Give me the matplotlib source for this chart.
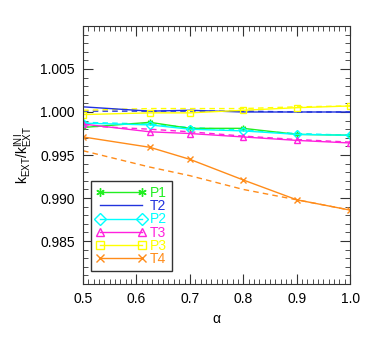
import matplotlib
matplotlib.use("Agg")
import matplotlib.pyplot as plt
from matplotlib.ticker import MultipleLocator, FormatStrFormatter

plt.rcParams['font.family'] = ['Liberation Sans', 'DejaVu Sans']
plt.rcParams['mathtext.fontset'] = 'custom'
plt.rcParams['mathtext.rm'] = 'Liberation Sans'
plt.rcParams['mathtext.it'] = 'Liberation Sans'

# x values (alpha)
alpha = [0.5, 0.625, 0.7, 0.8, 0.9, 1.0]

# solid curves
p1 = [0.9982, 0.9988, 0.9981, 0.9981, 0.9974, 0.9973]
t2 = [1.0006, 1.0001, 1.0002, 1.0000, 1.0000, 1.0000]
p2 = [0.9987, 0.9985, 0.9980, 0.9978, 0.9974, 0.9973]
t3 = [0.9986, 0.9977, 0.9975, 0.9971, 0.9967, 0.9964]
p3 = [0.9997, 0.9999, 0.9999, 1.0002, 1.0005, 1.0007]
t4 = [0.9971, 0.9959, 0.9945, 0.9921, 0.9898, 0.9886]

# dashed curves
t2_d = [1.0001, 1.0001, 1.0001, 1.0001, 1.0000, 1.0000]
p2_d = [0.9988, 0.9986, 0.9982, 0.9979, 0.9975, 0.9973]
t3_d = [0.9984, 0.9980, 0.9977, 0.9972, 0.9968, 0.9965]
p3_d = [1.0002, 1.0004, 1.0004, 1.0004, 1.0006, 1.0007]
t4_d = [0.9955, 0.9936, 0.9926, 0.9910, 0.9898, 0.9886]

yticks = [0.985, 0.990, 0.995, 1.000, 1.005]

labels = ['P1', 'T2', 'P2', 'T3', 'P3', 'T4']
colors = ['#22ee22', '#2233dd', '#00ffff', '#ff22dd', '#ffff00', '#ff8c1a']
markers = [(6, 2, 0), None, 'D', '^', 's', 'x']

fig = plt.figure(figsize=(3.74, 3.37), dpi=100)
ax = fig.add_axes([0.222, 0.157, 0.714, 0.766])

# dashed ones first so the solid lines sit on top
dashed = [None, t2_d, p2_d, t3_d, p3_d, t4_d]
for i in range(len(labels)):
    if dashed[i] is not None:
        ax.plot(alpha, dashed[i], color=colors[i], lw=1, ls=(0, (4, 3)))

solid = [p1, t2, p2, t3, p3, t4]
lines = []
for i in range(len(labels)):
    ln, = ax.plot(alpha, solid[i], color=colors[i], lw=1, marker=markers[i],
                  ms=4, mfc='none', mec=colors[i], mew=1, label=labels[i])
    lines.append(ln)

ax.set_xlim(0.5, 1.0)
ax.set_ylim(0.980, 1.010)
ax.xaxis.set_major_locator(MultipleLocator(0.1))
ax.xaxis.set_minor_locator(MultipleLocator(0.01))
ax.xaxis.set_major_formatter(FormatStrFormatter('%.1f'))
ax.set_yticks(yticks)
ax.yaxis.set_minor_locator(MultipleLocator(0.001))
ax.yaxis.set_major_formatter(FormatStrFormatter('%.3f'))
ax.tick_params(which='both', direction='in', top=True, right=True, labelsize=10, color='#333333')
ax.tick_params(which='major', length=7, pad=6)
ax.tick_params(which='minor', length=3.5)
for s in ax.spines.values():
    s.set_color('#333333')

ax.set_xlabel('α', fontsize=10, labelpad=4)
ax.set_ylabel(r'$\mathregular{k_{EXT}/k_{EXT}^{INI}}$', fontsize=10, labelpad=4)

leg = ax.legend(handles=lines, loc='lower left', bbox_to_anchor=(0.03, 0.05),
                borderaxespad=0, fontsize=10, numpoints=2, markerscale=1.5,
                handlelength=3.6, handletextpad=0.3, labelspacing=-0.05,
                fancybox=False, edgecolor='#333333', framealpha=1,
                borderpad=0.35)
leg.get_frame().set_linewidth(1)
for txt, c in zip(leg.get_texts(), colors):
    txt.set_color(c)

fig.savefig('out.png', dpi=100)
